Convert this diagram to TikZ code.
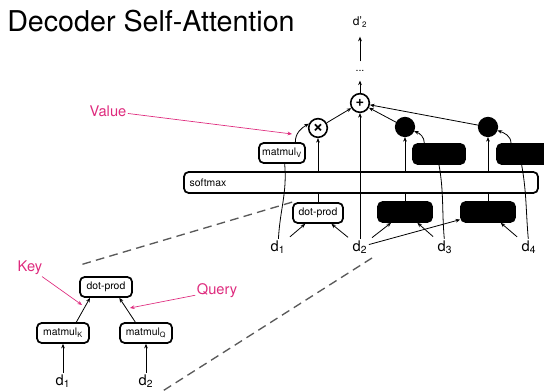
\documentclass[tikz,border=0pt]{standalone}
\usepackage{fontspec}
\setmainfont{TeX Gyre Heros}
\usetikzlibrary{arrows.meta}
\definecolor{notepink}{RGB}{222,42,125}
\begin{document}
\begin{tikzpicture}[x=0.75pt,y=0.75pt,
		box/.style={draw,line width=1.3pt,rounded corners=3.5pt,minimum height=15pt,inner sep=1pt,font=\fontsize{7.8}{8}\selectfont},
		blackbox/.style={box,fill=black},
		op/.style={draw,circle,line width=1.2pt,minimum size=14pt,inner sep=0pt,font=\bfseries\fontsize{11}{11}\selectfont},
		blackop/.style={op,fill=black},
		lbl/.style={inner sep=1pt,font=\fontsize{11}{12}\selectfont},
		note/.style={lbl,text=notepink},
		arr/.style={-{Stealth[length=3.4pt,width=2.8pt]},line width=0.6pt},
		link/.style={line width=0.6pt},
		hint/.style={arr,draw=notepink,line width=0.5pt},
		cone/.style={dash pattern=on 6.5pt off 4pt,line width=1pt,draw=black!65}]
	\clip (0,0) rectangle (544,392);
	\node[anchor=base west,inner sep=0pt,font=\fontsize{21.5}{24}\selectfont] (title) at (7,360) {Decoder Self-Attention};
	% output column
	\node[lbl,font=\fontsize{9}{10}\selectfont] (out) at (360,370) {d'\textsubscript{2}};
	\node[lbl,font=\fontsize{8}{9}\selectfont,minimum height=14pt] (dots) at (360,321) {...};
	\node[op] (plus) at (360,289) {+};
	\node[op,font=\bfseries\fontsize{14}{14}\selectfont] (times) at (318,264) {×};
	\node[blackop] (bc1) at (405,265) {};
	\node[blackop] (bc2) at (488,265) {};
	% boxes above and below the softmax
	\node[box,minimum width=34.5pt] (mv) at (282,239) {matmul\textsubscript{V}};
	\node[blackbox,minimum width=39pt] (ub1) at (439,238) {};
	\node[blackbox,minimum width=39pt] (ub2) at (523,238) {};
	\node[box,minimum width=265.5pt,minimum height=15.75pt,text width=257pt,align=left,inner xsep=4pt] (softmax) at (361,209.5) {softmax};
	\node[box,minimum width=37.5pt] (dp) at (318,179) {dot-prod};
	\node[blackbox,minimum width=40.5pt] (lb1) at (405,180) {};
	\node[blackbox,minimum width=40.5pt] (lb2) at (488,180) {};
	\node[lbl] (d1) at (278,145) {d\textsubscript{1}};
	\node[lbl] (d2) at (360,145) {d\textsubscript{2}};
	\node[lbl] (d3) at (445,145) {d\textsubscript{3}};
	\node[lbl] (d4) at (529,145) {d\textsubscript{4}};
	% detail of one dot-prod
	\node[box,minimum width=39pt] (kdp) at (106,105) {dot-prod};
	\node[box,minimum width=39pt] (mk) at (63,59) {matmul\textsubscript{K}};
	\node[box,minimum width=39pt] (mq) at (146,59) {matmul\textsubscript{Q}};
	\node[lbl] (ld1) at (63,11) {d\textsubscript{1}};
	\node[lbl] (ld2) at (146,11) {d\textsubscript{2}};
	\node[note] (key) at (30,124) {Key};
	\node[note] (query) at (217,101) {Query};
	\node[note] (value) at (108,281) {Value};
	\coordinate (keytip) at (82,87);
	\coordinate (querytip) at (130,84);
	\coordinate (valuetip) at (292,258);
	\coordinate (coneA) at (80,127);
	\coordinate (coneB) at (372,134);
	\coordinate (coneC) at (158,-2);
	% connectors
	\draw[arr] (plus) -- (dots);
	\draw[arr,shorten >=6pt] (dots) -- (out);
	\draw[arr] (times) -- (plus);
	\draw[arr] (bc1) -- (plus);
	\draw[arr] (bc2) -- (plus);
	\draw[arr] (d2) -- (plus);
	\draw[arr] (times |- softmax.north) -- (times);
	\draw[arr] (bc1 |- softmax.north) -- (bc1);
	\draw[arr] (bc2 |- softmax.north) -- (bc2);
	\draw[link] (dp) -- (dp |- softmax.south);
	\draw[link] (lb1) -- (lb1 |- softmax.south);
	\draw[link] (lb2) -- (lb2 |- softmax.south);
	\draw[link] (d1) to[out=87,in=-85] ([xshift=2]mv.south);
	\draw[link] (d3) to[out=95,in=-80] (ub1.south);
	\draw[link] (d4) to[out=95,in=-80] ([xshift=-1]ub2.south);
	\draw[arr] ([xshift=10]mv.north) to[out=90,in=210] (times.155);
	\draw[arr] ([xshift=-11]ub1.north) to[out=90,in=-20] (bc1.-25);
	\draw[arr] ([xshift=-9]ub2.north) to[out=90,in=-20] (bc2.-20);
	\draw[arr,shorten <=3pt] (d1) -- (dp);
	\draw[arr,shorten <=3pt] (d2) -- (dp);
	\draw[arr,shorten <=3pt] (d2) -- (lb1);
	\draw[arr,shorten <=3pt] (d3) -- (lb1);
	\draw[arr] (d2) -- (lb2);
	\draw[arr,shorten <=3pt] (d4) -- (lb2);
	\draw[arr] (ld1) -- (mk);
	\draw[arr] (ld2) -- (mq);
	\draw[arr] ([xshift=10]mk.north) -- ([xshift=-12]kdp.south);
	\draw[arr] ([xshift=-8]mq.north) -- ([xshift=10]kdp.south);
	\draw[hint] (key) -- (keytip);
	\draw[hint] (query) -- (querytip);
	\draw[hint] (value) -- (valuetip);
	\draw[cone] (dp.north west) -- (coneA);
	\draw[cone] (coneB) -- (coneC);
\end{tikzpicture}
\end{document}
